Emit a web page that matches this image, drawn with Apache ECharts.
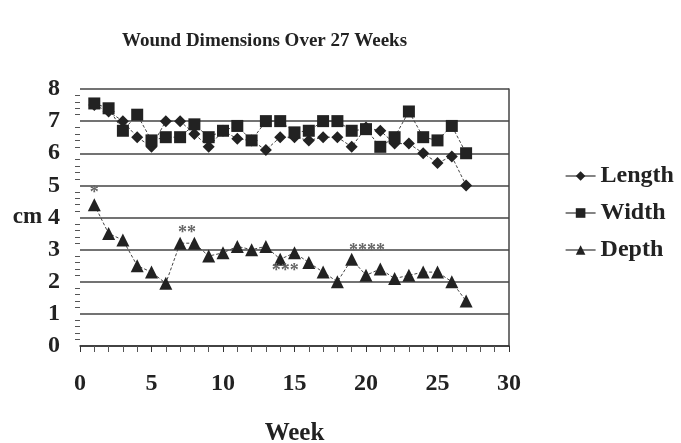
<!DOCTYPE html>
<html>
<head>
<meta charset="utf-8">
<script src="https://cdn.jsdelivr.net/npm/echarts@6/dist/echarts.min.js"></script>
<style>html,body{margin:0;padding:0;background:#fff}#c{width:681px;height:443px}</style>
</head>
<body>
<div id="c"></div>
<script>
var weeks = [1,2,3,4,5,6,7,8,9,10,11,12,13,14,15,16,17,18,19,20,21,22,23,24,25,26,27];
var lengthCm = [7.5,7.3,7.0,6.5,6.2,7.0,7.0,6.6,6.2,6.7,6.45,6.4,6.1,6.5,6.5,6.4,6.5,6.5,6.2,6.8,6.7,6.3,6.3,6.0,5.7,5.9,5.0];
var widthCm  = [7.55,7.4,6.7,7.2,6.4,6.5,6.5,6.9,6.5,6.7,6.85,6.4,7.0,7.0,6.65,6.7,7.0,7.0,6.7,6.75,6.2,6.5,7.3,6.5,6.4,6.85,6.0];
var depthCm  = [4.4,3.5,3.3,2.5,2.3,1.95,3.2,3.2,2.8,2.9,3.1,3.0,3.1,2.7,2.9,2.6,2.3,2.0,2.7,2.2,2.4,2.1,2.2,2.3,2.3,2.0,1.4];
var annotations = [
  {week: 1, text: '*'},
  {week: 7, text: '**'},
  {week: 14, text: '***'},
  {week: 20, text: '****'}
];
var xTicks = [0,5,10,15,20,25,30];
var yTicks = [0,1,2,3,4,5,6,7,8];

var serif = '"Liberation Serif","Times New Roman",serif';
var ink = '#222';

function pairs(vals){ return weeks.map(function(w,i){ return [w, vals[i]]; }); }

var annoStyle = {
  1:  {position:'top', offset:[0,4]},
  7:  {position:'top', offset:[7,6]},
  14: {position:'bottom', offset:[5,-3]},
  20: {position:'top', offset:[1,-8]}
};
var depthData = weeks.map(function(w,i){
  var item = {value:[w, depthCm[i]]};
  annotations.forEach(function(a){
    if (a.week === w) {
      var st = annoStyle[w];
      item.label = {show:true, formatter:a.text, position:st.position, distance:0, offset:st.offset,
        color:'#666', fontSize:18, fontFamily:serif, fontWeight:'bold'};
    }
  });
  return item;
});

var chart = echarts.init(document.getElementById('c'), null, {renderer:'canvas'});
var lineStyle = {color:'#444', width:1, type:[3,2]};
chart.setOption({
  animation:false,
  backgroundColor:'#fff',
  title:{text:'Wound Dimensions Over 27 Weeks', left:117, top:27,
    textStyle:{fontFamily:serif, fontWeight:'bold', fontSize:19, color:ink}},
  grid:{left:80, right:172, top:89, bottom:97, containLabel:false, outerBoundsMode:'none'},
  legend:{orient:'vertical', left:560, top:159, itemGap:13, itemWidth:30, itemHeight:12,
    lineStyle:{type:'solid', color:'#333', width:1.2},
    textStyle:{fontFamily:serif, fontWeight:'bold', fontSize:24, color:ink},
    data:['Length','Width','Depth']},
  xAxis:{type:'value', min:xTicks[0], max:xTicks[xTicks.length-1], interval:5,
    name:'Week', nameLocation:'middle', nameGap:75,
    nameTextStyle:{fontFamily:serif, fontWeight:'bold', fontSize:25, color:ink},
    axisLine:{show:true, lineStyle:{color:'#333', width:1.5}},
    axisTick:{show:true, length:6, lineStyle:{color:'#333'}},
    minorTick:{show:true, splitNumber:5, length:6, lineStyle:{color:'#555'}},
    splitLine:{show:false},
    axisLabel:{margin:26, fontFamily:serif, fontWeight:'bold', fontSize:24, color:ink}},
  yAxis:[{type:'value', min:yTicks[0], max:yTicks[yTicks.length-1], interval:1,
    name:'cm', nameLocation:'middle', nameRotate:0, nameGap:31,
    nameTextStyle:{fontFamily:serif, fontWeight:'bold', fontSize:23, color:ink, align:'right'},
    axisLine:{show:false},
    axisTick:{show:false},
    minorTick:{show:true, splitNumber:5, length:5, lineStyle:{color:'#555'}},
    splitLine:{show:true, lineStyle:{color:'#444', width:1.6}},
    axisLabel:{margin:20, fontFamily:serif, fontWeight:'bold', fontSize:24, color:ink}},
   {type:'value', position:'right', min:0, max:8, interval:1,
    axisLine:{show:true, lineStyle:{color:'#444', width:1.5}},
    axisTick:{show:false}, axisLabel:{show:false}, splitLine:{show:false}}],
  series:[
    {name:'Length', type:'line', data:pairs(lengthCm), symbol:'diamond', symbolSize:12,
      itemStyle:{color:ink}, lineStyle:lineStyle},
    {name:'Width', type:'line', data:pairs(widthCm), symbol:'rect', symbolSize:12,
      itemStyle:{color:ink}, lineStyle:lineStyle},
    {name:'Depth', type:'line', data:depthData, symbol:'triangle', symbolSize:13,
      itemStyle:{color:ink}, lineStyle:lineStyle}
  ]
});
</script>
</body>
</html>
